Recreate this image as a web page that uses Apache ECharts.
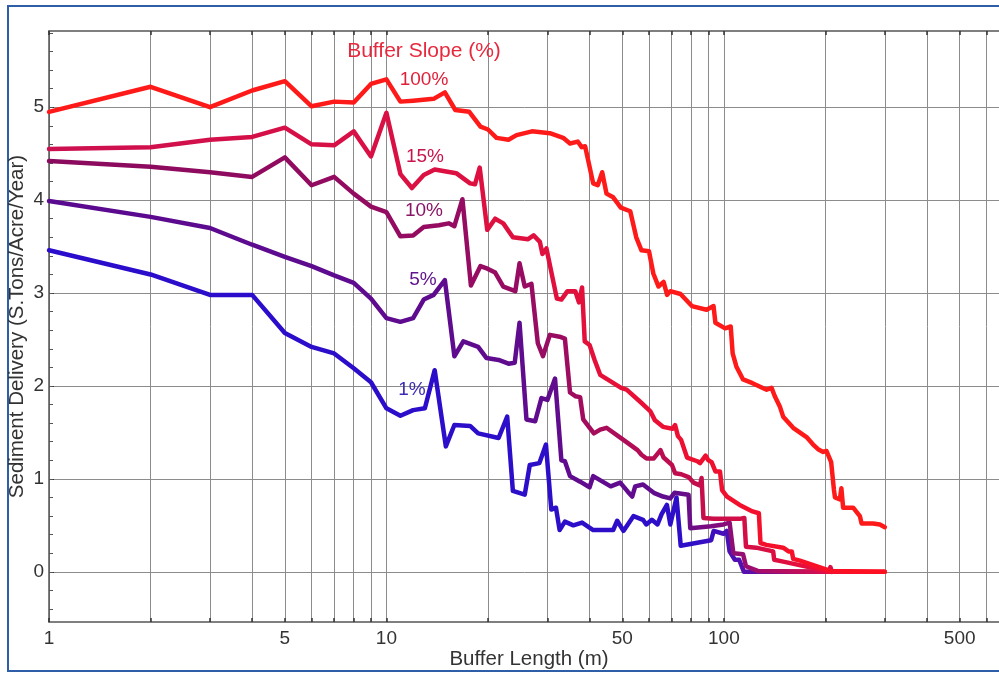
<!DOCTYPE html>
<html>
<head>
<meta charset="utf-8">
<title>Sediment Delivery vs Buffer Length</title>
<script src="https://cdn.jsdelivr.net/npm/echarts/dist/echarts.min.js"></script>
<style>
    html, body { margin: 0; padding: 0; background: #fff; }
    #chart { width: 999px; height: 673px; }
</style>
</head>
<body>
<div id="chart"></div>
<script>
    // buffer length (m) / sediment delivery (S.Tons/Acre/Year)
    const slope1 = [[1,3.46],[2,3.20],[3,2.98],[4,2.98],[5,2.57],[6,2.42],[7,2.35],[8,2.19],[9,2.04],[10,1.76],[11,1.68],[12,1.74],[13,1.76],[13.9,2.17],[15,1.35],[15.9,1.58],[17.7,1.57],[18.7,1.49],[21.5,1.44],[22.8,1.67],[23.7,0.87],[25.7,0.83],[26.6,1.15],[28.4,1.17],[29.7,1.37],[30.8,0.67],[31.8,0.69],[32.6,0.45],[33.8,0.54],[35.8,0.50],[38,0.53],[41,0.45],[47,0.45],[48.3,0.55],[50.4,0.44],[54,0.60],[57.6,0.56],[58.9,0.51],[61.2,0.56],[63.6,0.51],[65.4,0.62],[67.8,0.72],[69.4,0.51],[72.4,0.80],[74.5,0.28],[91.7,0.34],[93.3,0.44],[99.8,0.41],[102,0.44],[104,0.22],[107.8,0.13],[111,0.13],[114.7,0],[204,0],[207,0.05],[209,0]];
    const slope5 = [[1,3.99],[2,3.82],[3,3.70],[4,3.52],[5,3.39],[6,3.29],[7,3.19],[8,3.11],[9,2.94],[10,2.73],[11,2.69],[12,2.73],[12.9,2.93],[13.8,2.98],[14.9,3.14],[15.9,2.32],[16.9,2.48],[18.7,2.42],[19.8,2.30],[21.5,2.28],[23,2.24],[24,2.25],[24.8,2.68],[26,1.64],[27.6,1.62],[28.8,1.87],[30,1.85],[31.6,2.08],[33,1.20],[33.8,1.19],[35,1.03],[37.5,0.97],[40,0.91],[41,1.03],[46.2,0.92],[49.3,0.96],[52,0.86],[53.5,0.81],[54.6,0.92],[57.6,0.94],[62,0.85],[66,0.81],[69.4,0.79],[71.4,0.85],[78.6,0.83],[79.5,0.47],[91.6,0.49],[99.8,0.51],[104,0.53],[106.7,0.20],[114,0.19],[116.3,0.06],[126,0.01],[210,0]];
    const slope10 = [[1,4.42],[2,4.36],[3,4.30],[4,4.25],[5,4.46],[6,4.16],[7,4.25],[8,4.07],[9,3.93],[10,3.87],[11,3.61],[12,3.62],[12.9,3.71],[14.3,3.73],[15.3,3.75],[15.9,3.72],[16.8,4.01],[17.8,3.08],[19,3.29],[20,3.26],[21,3.22],[22.2,3.07],[24.1,3.02],[24.8,3.32],[25.7,3.07],[26.9,3.10],[28.1,2.46],[29.1,2.32],[30.5,2.55],[32.6,2.53],[33.8,2.51],[35,1.93],[36.3,1.89],[37.5,1.88],[38.3,1.64],[41.2,1.49],[43,1.53],[44.9,1.55],[50.4,1.42],[55.5,1.31],[57,1.26],[59,1.22],[62,1.22],[64.9,1.31],[66.3,1.23],[70.2,1.15],[71.7,1.06],[74.8,1.05],[78.6,1.02],[81.3,0.96],[84.9,0.93],[85.9,1.01],[87,0.58],[93.3,0.57],[111.4,0.57],[115,0.58],[116.3,0.27],[124.7,0.26],[140,0.22],[141,0.13],[150,0.11],[207,0],[300,0]];
    const slope15 = [[1,4.55],[2,4.57],[3,4.65],[4,4.68],[5,4.78],[6,4.60],[7,4.59],[8,4.74],[9,4.47],[10,4.94],[11,4.28],[11.9,4.13],[12.9,4.27],[13.9,4.33],[16.1,4.29],[17.7,4.18],[18.3,4.17],[18.9,4.35],[19.9,3.68],[21,3.80],[22.2,3.75],[23.7,3.60],[26.3,3.58],[27.3,3.62],[28.5,3.55],[29,3.42],[29.8,3.48],[32,2.94],[33,2.93],[34.4,3.02],[36.3,3.02],[37.2,2.90],[38,3.06],[38.7,2.48],[40,2.44],[41.4,2.28],[43,2.12],[46.2,2.05],[49.6,1.98],[51.5,1.96],[56.5,1.83],[60.5,1.73],[62.5,1.63],[66,1.56],[70.5,1.54],[71.7,1.58],[73.1,1.46],[74.7,1.42],[77.8,1.23],[83.4,1.19],[85,1.17],[88.3,1.25],[90,1.20],[92,1.18],[94.4,1.08],[97.4,1.08],[98.8,0.88],[102.2,0.81],[111.4,0.72],[121.6,0.65],[127,0.63],[128.4,0.31],[133.6,0.29],[149.9,0.26],[155.5,0.22],[159,0.22],[160.5,0.14],[168,0.12],[207,0.01],[300,0]];
    const slope100 = [[1,4.95],[2,5.22],[3,5.00],[4,5.18],[5,5.28],[6,5.01],[7,5.06],[8,5.05],[9,5.25],[10,5.30],[11,5.06],[12,5.07],[13.8,5.09],[14.9,5.16],[16,4.97],[17.6,4.95],[19,4.79],[20,4.76],[21.2,4.67],[23,4.65],[24.3,4.70],[27,4.74],[30.5,4.72],[33.4,4.67],[35,4.61],[36.9,4.63],[37.9,4.57],[38.8,4.58],[41,4.18],[42.3,4.16],[43.6,4.30],[44.9,4.07],[47,4.03],[49.5,3.92],[52.8,3.88],[55,3.60],[57,3.46],[60,3.45],[61.8,3.21],[64,3.07],[66.3,3.12],[67.9,2.98],[69.4,3.02],[74.4,2.99],[80.4,2.86],[88.9,2.82],[93.2,2.86],[94.4,2.68],[100.9,2.62],[104.8,2.64],[106.2,2.35],[108.9,2.21],[114,2.07],[121.6,2.03],[133.9,1.96],[138.5,1.98],[141.6,1.89],[146.5,1.78],[149.9,1.67],[160.5,1.55],[175.8,1.45],[183.9,1.37],[190.2,1.32],[197,1.29],[201.5,1.30],[208,1.18],[212,0.88],[213.5,0.80],[220.7,0.78],[223,0.90],[225.7,0.69],[241.7,0.69],[253,0.60],[256,0.52],[277,0.52],[290,0.51],[300,0.48]];

    const xTicks = [1,2,3,4,5,6,7,8,9,10,20,30,40,50,60,70,80,90,100,200,300,400,500,600,700];
    const xLabels = [1,5,10,50,100,500];
    const yLabels = [0,1,2,3,4,5];
    const yMinorTicks = [-0.4,-0.2,0,0.2,0.4,0.6,0.8,1,1.2,1.4,1.6,1.8,2,2.2,2.4,2.6,2.8,3,3.2,3.4,3.6,3.8,4,4.2,4.4,4.6,4.8,5,5.2,5.4,5.6,5.8];

    const font = '"Liberation Sans", Arial, Helvetica, sans-serif';

    const chart = echarts.init(document.getElementById('chart'));
    window.onresize = function () {
        chart.resize();
    }

    function grad(stops) {
        return {
            type: 'linear', x: 0, y: 0, x2: 1, y2: 0,
            colorStops: stops.map(function (s) { return {offset: s[0], color: s[1]}; })
        };
    }

    function line(name, data, color) {
        return {
            name: name,
            type: 'line',
            data: data,
            symbol: 'none',
            lineStyle: {width: 4.5, color: color, join: 'round', cap: 'round'},
            animation: false
        };
    }

    function label(text, x, y, color, size) {
        return {
            type: 'text', x: x, y: y, z: 100,
            style: {text: text, fill: color, font: (size || 19) + 'px ' + font, align: 'center', verticalAlign: 'middle'}
        };
    }

    chart.setOption({
        backgroundColor: '#fff',
        grid: {left: 49, top: 31, right: -10, bottom: 51, containLabel: false, outerBoundsMode: 'none'},
        xAxis: [
            {
                type: 'log', logBase: 10, min: 1, max: 700,
                name: 'Buffer Length (m)', nameLocation: 'middle', nameGap: 27, nameMoveOverlap: false,
                nameTextStyle: {color: '#333', fontSize: 20.5, fontFamily: font},
                axisLine: {show: true, onZero: false, lineStyle: {color: '#555', width: 1.5}},
                axisTick: {show: true, inside: true, length: 4, customValues: xTicks, lineStyle: {color: '#333', width: 1.5}},
                axisLabel: {customValues: xLabels, color: '#333', fontSize: 19, fontFamily: font, margin: 7},
                splitLine: {show: true, lineStyle: {color: '#8c8c8c', width: 1}}
            },
            {
                type: 'log', logBase: 10, min: 1, max: 700, position: 'top',
                axisLine: {show: true, onZero: false, lineStyle: {color: '#555', width: 1.5}},
                axisTick: {show: true, inside: true, length: 4, customValues: xTicks, lineStyle: {color: '#333', width: 1.5}},
                axisLabel: {show: false},
                splitLine: {show: false}
            }
        ],
        yAxis: [
            {
                type: 'value', min: -0.54, max: 5.82,
                name: 'Sediment Delivery (S.Tons/Acre/Year)', nameLocation: 'middle', nameGap: 21, nameRotate: 90, nameMoveOverlap: false,
                nameTextStyle: {color: '#333', fontSize: 20.5, fontFamily: font},
                axisLine: {show: true, onZero: false, lineStyle: {color: '#555', width: 1.5}},
                axisTick: {show: true, inside: true, length: 5, customValues: yLabels, lineStyle: {color: '#333'}},
                axisLabel: {customValues: yLabels, color: '#333', fontSize: 19, fontFamily: font, margin: 5},
                splitLine: {show: true, lineStyle: {color: '#8c8c8c', width: 1}}
            },
            {
                type: 'value', min: -0.54, max: 5.82, position: 'left',
                axisLine: {show: false},
                axisTick: {show: true, inside: true, length: 4, customValues: yMinorTicks, lineStyle: {color: '#555'}},
                axisLabel: {show: false},
                splitLine: {show: false}
            }
        ],
        series: [
            line('1%', slope1, grad([[0, '#2a0ccc'], [0.82, '#2e0ec8'], [0.92, '#6a10a0'], [1, '#e01040']])),
            line('5%', slope5, grad([[0, '#5a0a90'], [0.8, '#620c8e'], [1, '#e0104a']])),
            line('10%', slope10, grad([[0, '#8a0a5e'], [0.6, '#980c62'], [1, '#ff1030']])),
            line('15%', slope15, grad([[0, '#cc1050'], [0.6, '#e0103e'], [1, '#ff1020']])),
            line('100%', slope100, '#ff1a1a')
        ],
        graphic: [
            {type: 'rect', shape: {x: 8, y: 6, width: 1100, height: 665}, style: {fill: 'none', stroke: '#2f5ea8', lineWidth: 2}},
            label('Buffer Slope (%)', 424, 51, '#e8283c', 21),
            label('100%', 424, 80, '#e0203a'),
            label('15%', 425, 157, '#c8144c'),
            label('10%', 424, 211, '#8a1466'),
            label('5%', 423, 280, '#62148e'),
            label('1%', 412, 390, '#3c2cb4')
        ]
    });
</script>
</body>
</html>
